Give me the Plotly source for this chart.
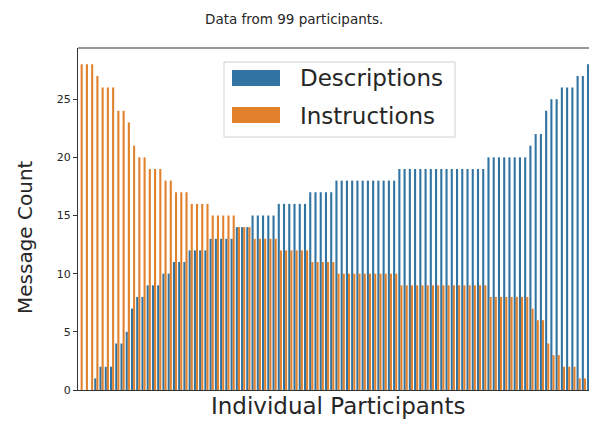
import plotly.graph_objects as go

title_text = "Data from 99 participants."
series_names = ["Descriptions", "Instructions"]
x_label = "Individual Participants"
y_label = "Message Count"
y_ticks = [0, 5, 10, 15, 20, 25]

descriptions = ([0, 0, 0, 1, 2, 2, 2, 4, 4, 5, 7, 8, 8, 9, 9, 9, 10, 10, 11, 11, 11,
                 12, 12, 12, 12, 13, 13, 13, 13, 13, 14, 14, 14, 15, 15, 15, 15, 15,
                 16, 16, 16, 16, 16, 16, 17, 17, 17, 17, 17]
                + [18] * 12 + [19] * 17 + [20] * 8
                + [21, 22, 22, 24, 25, 25, 26, 26, 26, 27, 27, 28, 28])
instructions = ([28, 28, 28, 27, 26, 26, 26, 24, 24, 23, 21, 20, 20, 19, 19, 19, 18, 18,
                 17, 17, 17, 16, 16, 16, 16, 15, 15, 15, 15, 15, 14, 14, 14, 13, 13, 13,
                 13, 13, 12, 12, 12, 12, 12, 12, 11, 11, 11, 11, 11]
                + [10] * 12 + [9] * 17 + [8] * 8
                + [7, 6, 6, 4, 3, 3, 2, 2, 2, 1, 1, 0, 0])
participants = list(range(len(descriptions)))

BLUE = "#3274a1"
ORANGE = "#e1812c"
FONT = "DejaVu Sans"

fig = go.Figure()
fig.add_trace(go.Bar(x=participants, y=descriptions, name=series_names[0],
                     marker=dict(color=BLUE, line=dict(width=0))))
fig.add_trace(go.Bar(x=participants, y=instructions, name=series_names[1],
                     marker=dict(color=ORANGE, line=dict(width=0))))

# page has an 8px body margin; size the figure so the plot area lands at
# page x 78..597 and page y 48..390
OFF = 8
PL, PR, PT, PB = 78, 597, 48, 390      # plot area in page pixels
W, H = 597 - OFF, 423 - OFF
L, T = PL - OFF, PT - OFF
R = W - (PR - OFF)
B = H - (PB - OFF)

fig.update_layout(
    width=W, height=H,
    margin=dict(l=L, r=R, t=T, b=B, pad=0),
    paper_bgcolor="white", plot_bgcolor="white",
    barmode="group", bargap=0.2, bargroupgap=0,
    showlegend=False,
    font=dict(family=FONT, color="#262626"),
)
fig.update_xaxes(range=[-0.5, len(participants) - 0.5], showticklabels=False,
                 ticks="", showgrid=False, zeroline=False,
                 showline=True, linecolor="#333333", linewidth=1)
fig.update_yaxes(range=[0, 29.4], tickvals=y_ticks, ticks="outside", ticklen=4,
                 tickcolor="#333333", tickfont=dict(size=11, color="#262626"),
                 showgrid=False, zeroline=False,
                 showline=True, linecolor="#333333", linewidth=1)

pw = PR - PL
ph = PB - PT
def px(x):
    return (x - PL) / pw
def py(y):
    return (PB - y) / ph

shapes = [
    dict(type="line", xref="paper", yref="paper", x0=0, x1=1, y0=1, y1=1,
         line=dict(color="#333333", width=1)),
    dict(type="rect", xref="paper", yref="paper", x0=px(224), x1=px(455),
         y0=py(137), y1=py(62), line=dict(color="#d0d0d0", width=1),
         fillcolor="rgba(255,255,255,0.8)"),
    dict(type="rect", xref="paper", yref="paper", x0=px(232), x1=px(280),
         y0=py(86), y1=py(70), line=dict(width=0), fillcolor=BLUE),
    dict(type="rect", xref="paper", yref="paper", x0=px(232), x1=px(280),
         y0=py(123), y1=py(107), line=dict(width=0), fillcolor=ORANGE),
]
annotations = [
    dict(text=series_names[0], xref="paper", yref="paper", x=px(298), y=py(78),
         xanchor="left", yanchor="middle", showarrow=False,
         font=dict(size=23, family=FONT, color="#262626")),
    dict(text=series_names[1], xref="paper", yref="paper", x=px(298), y=py(116),
         xanchor="left", yanchor="middle", showarrow=False,
         font=dict(size=23, family=FONT, color="#262626")),
    dict(text=title_text, xref="paper", yref="paper", x=px(294), y=py(8.5),
         xanchor="center", yanchor="top", showarrow=False,
         font=dict(size=13.5, family=FONT, color="#262626")),
    dict(text=x_label, xref="paper", yref="paper", x=0.5, y=py(406),
         xanchor="center", yanchor="middle", showarrow=False,
         font=dict(size=23, family=FONT, color="#262626")),
    dict(text=y_label, xref="paper", yref="paper", x=px(25), y=py(237),
         xanchor="center", yanchor="middle", showarrow=False, textangle=-90,
         font=dict(size=20, family=FONT, color="#262626")),
]
fig.update_layout(shapes=shapes, annotations=annotations)

fig.write_html("out.html")
